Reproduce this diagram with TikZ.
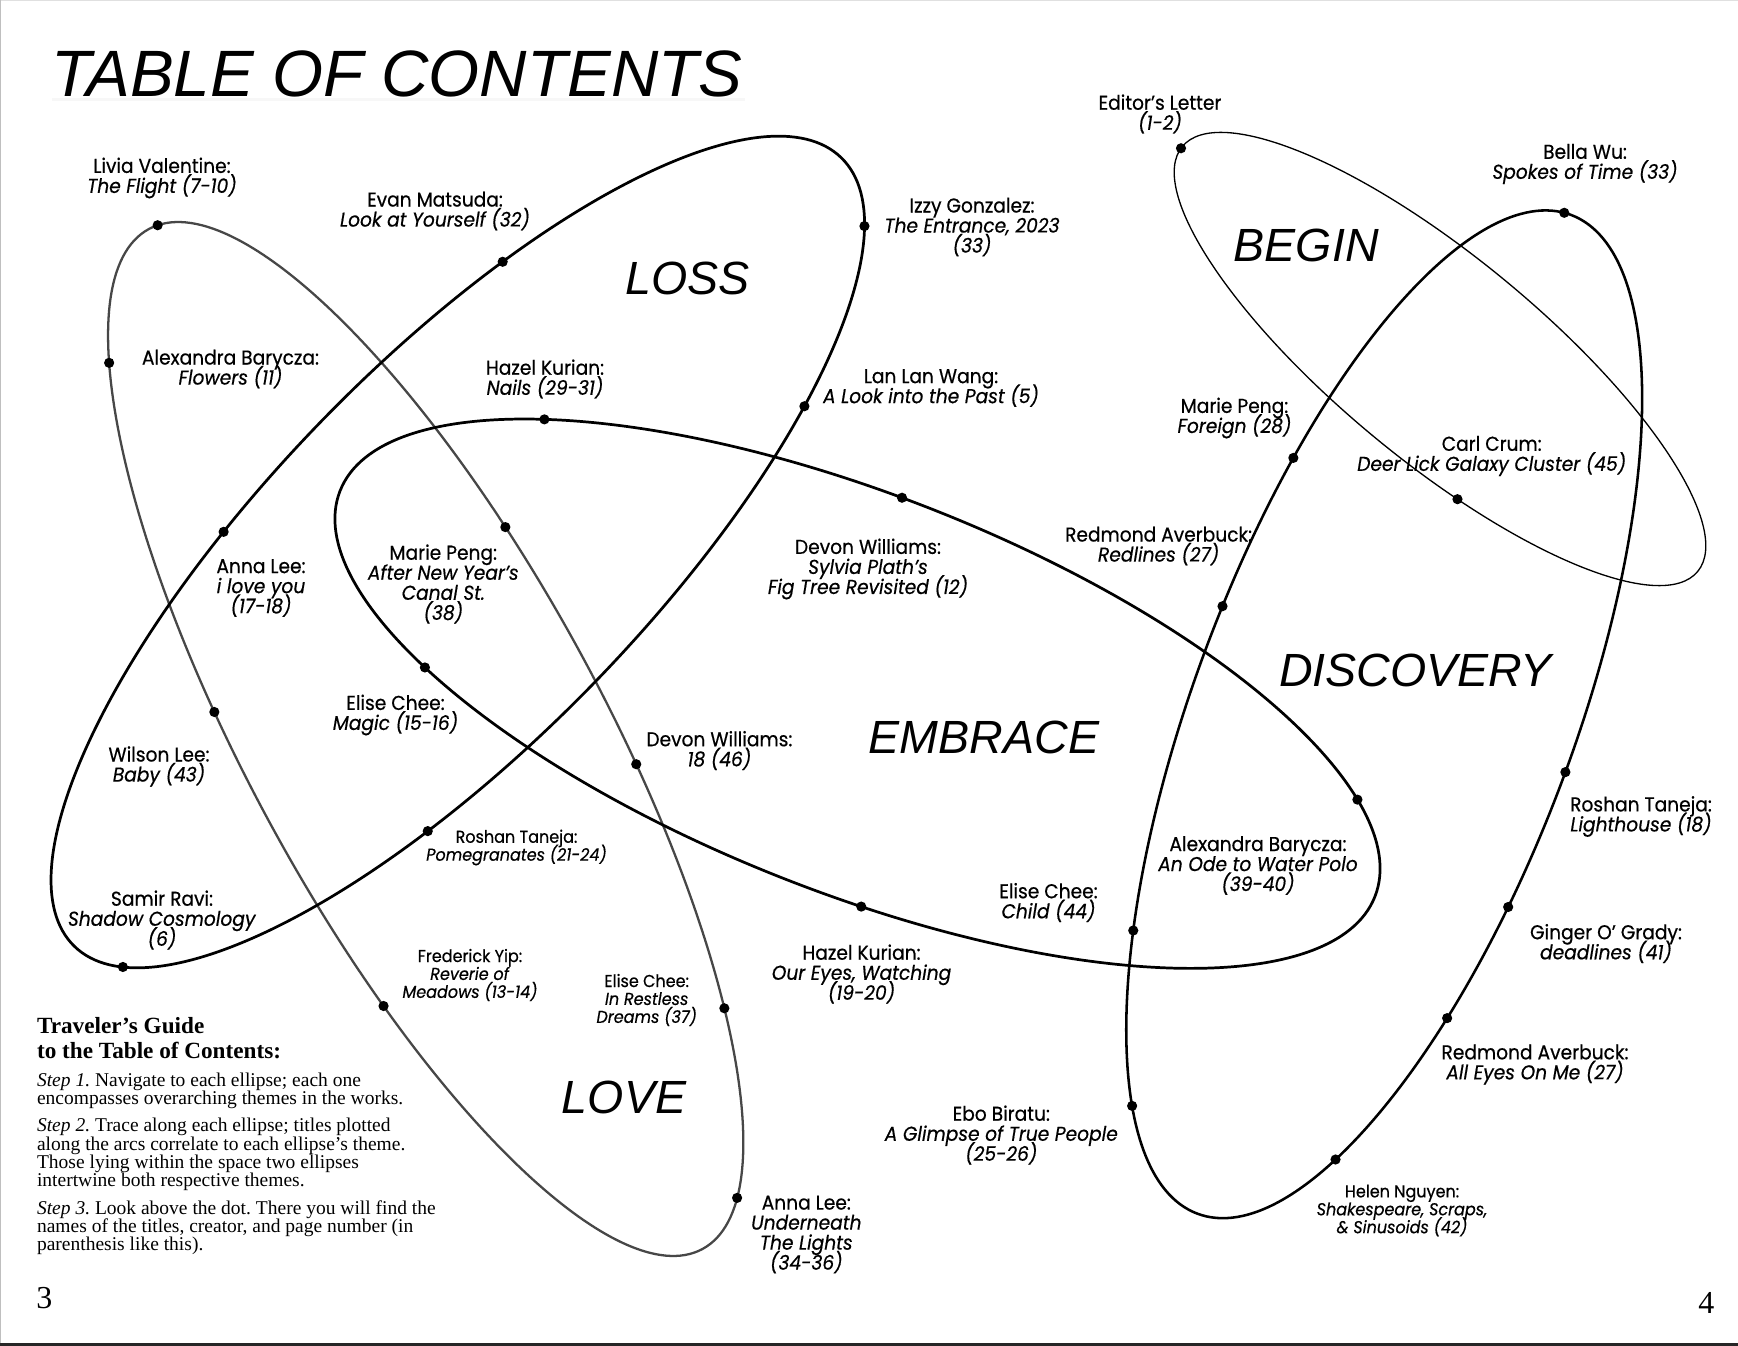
\documentclass[tikz,border=0pt]{standalone}
\usepackage{fontspec}
\setmainfont{Liberation Serif}
\newfontfamily\entryfont{Poppins}[FakeStretch=0.93, FakeBold=0.5]
\newfontfamily\themefont{Liberation Sans}

\tikzset{
  orbit/.style={line width=1.55pt},
  dot/.style={circle, fill=black, inner sep=0pt, minimum size=5.8pt},
  entry/.style={align=center, inner sep=0pt, font={\entryfont\fontsize{11.4}{11.4}\selectfont\lineskiplimit=-100pt}},
  smallentry/.style={entry, font={\entryfont\fontsize{9.8}{10.2}\selectfont\lineskiplimit=-100pt}},
  theme/.style={inner sep=0pt, font=\themefont\itshape\fontsize{26.5}{26.5}\selectfont},
  guide/.style={align=left, inner sep=0pt, anchor=base west, font={\fontsize{11.1}{10.4}\selectfont\lineskiplimit=-100pt\frenchspacing}},
}

\begin{document}
\begin{tikzpicture}[x=0.2mm, y=-0.2mm]
\useasboundingbox (0,0) rectangle (1738,1346);
\fill[white] (0,0) rectangle (1738,1346);
\draw[black!12, line width=0.6pt] (0,0.5) -- (1738,0.5);
\draw[black!25, line width=0.6pt] (0.5,0) -- (0.5,1346);
\draw[black!85, line width=1.2pt] (0,1344.5) -- (1738,1344.5);

% title
\fill[black!3] (52,98) rectangle (745,101);
\node[anchor=base west, inner sep=0pt, font=\themefont\itshape\fontsize{37.3}{37.3}\selectfont] (title) at (51,96.5) {TABLE OF CONTENTS};

% LOVE
\begin{scope}[shift={(425.7,739)}, rotate=-61.5]
  \draw[orbit, black!72, line width=1.3pt] (0,0) ellipse (580.3 and 177);
  \node[dot] (dLivia) at (183.1:580.3 and 177) {};
  \node[dot] (dFlowers) at (146.1:580.3 and 177) {};
  \node[dot] (dWilson) at (102.4:580.3 and 177) {};
  \node[dot] (dFrederick) at (68.3:580.3 and 177) {};
  \node[dot] (dLights) at (-18:580.3 and 177) {};
  \node[dot] (dDreams) at (-49.2:580.3 and 177) {};
  \node[dot] (dDevonEighteen) at (-77.8:580.3 and 177) {};
  \node[dot] (dCanal) at (-104.8:580.3 and 177) {};
\end{scope}

% LOSS
\begin{scope}[shift={(457.8,552)}, rotate=45.8]
  \draw[orbit] (0,0) ellipse (550 and 189);
  \node[dot] (dEvan) at (-64.2:550 and 189) {};
  \node[dot] (dIzzy) at (19.9:550 and 189) {};
  \node[dot] (dLanLan) at (51:550 and 189) {};
  \node[dot] (dPomegranates) at (113.7:550 and 189) {};
  \node[dot] (dSamir) at (164.9:550 and 189) {};
  \node[dot] (dILoveYou) at (254.3:550 and 189) {};
\end{scope}

% EMBRACE
\begin{scope}[shift={(857.5,693.7)}, rotate=-21.4]
  \draw[orbit] (0,0) ellipse (555.8 and 199);
  \node[dot] (dNails) at (225.2:555.8 and 199) {};
  \node[dot] (dFigTree) at (-93.1:555.8 and 199) {};
  \node[dot] (dWaterPolo) at (-24.9:555.8 and 199) {};
  \node[dot] (dOurEyes) at (81.6:555.8 and 199) {};
  \node[dot] (dMagic) at (137.9:555.8 and 199) {};
\end{scope}

% BEGIN
\begin{scope}[shift={(1440,359)}, rotate=-39.5]
  \draw[line width=0.75pt] (0,0) ellipse (334 and 102);
  \node[dot] (dEditor) at (178.8:334 and 102) {};
  \node[dot] (dCarl) at (72.1:334 and 102) {};
\end{scope}

% DISCOVERY
\begin{scope}[shift={(1384.2,714.3)}, rotate=69.5]
  \draw[orbit, line width=1.45pt] (0,0) ellipse (533.2 and 190);
  \node[dot] (dBella) at (-2.1:533.2 and 190) {};
  \node[dot] (dForeign) at (-67:533.2 and 190) {};
  \node[dot] (dRedlines) at (-85.2:533.2 and 190) {};
  \node[dot] (dChild) at (-123:533.2 and 190) {};
  \node[dot] (dEbo) at (-148.6:533.2 and 190) {};
  \node[dot] (dHelen) at (144.5:533.2 and 190) {};
  \node[dot] (dAllEyes) at (119.5:533.2 and 190) {};
  \node[dot] (dGinger) at (104.9:533.2 and 190) {};
  \node[dot] (dLighthouse) at (89:533.2 and 190) {};
\end{scope}

% themes
\node[theme] (loss) at (687.5,278) {LOSS};
\node[theme] (begin) at (1306.3,245) {BEGIN};
\node[theme] (discovery) at (1415.5,670) {DISCOVERY};
\node[theme] (embrace) at (984,737) {EMBRACE};
\node[theme] (love) at (624,1097) {LOVE};

% entries
\node[entry] (livia) at (162,178) {Livia Valentine:\\ \textit{The Flight (7-10)}};
\node[entry] (evan) at (435,211) {Evan Matsuda:\\ \textit{Look at Yourself (32)}};
\node[entry] (izzy) at (972,227) {Izzy Gonzalez:\\ \textit{The Entrance, 2023}\\ \textit{(33)}};
\node[entry] (flowers) at (230.5,369) {Alexandra Barycza:\\ \textit{Flowers (11)}};
\node[entry] (nails) at (545,379) {Hazel Kurian:\\ \textit{Nails (29-31)}};
\node[entry] (lanlan) at (931,388) {Lan Lan Wang:\\ \textit{A Look into the Past (5)}};
\node[entry] (foreign) at (1234.5,418) {Marie Peng:\\ \textit{Foreign (28)}};
\node[entry] (carl) at (1491.7,456) {Carl Crum:\\ \textit{Deer Lick Galaxy Cluster (45)}};
\node[entry] (bella) at (1585,164) {Bella Wu:\\ \textit{Spokes of Time (33)}};
\node[entry] (editor) at (1160,114) {Editor’s Letter\\ \textit{(1-2)}};
\node[entry] (iloveyou) at (261,588) {Anna Lee:\\ \textit{i love you}\\ \textit{(17-18)}};
\node[entry] (canal) at (443.3,584) {Marie Peng:\\ \textit{After New Year’s}\\ \textit{Canal St.}\\ \textit{(38)}};
\node[entry] (figtree) at (868,569) {Devon Williams:\\ \textit{Sylvia Plath’s}\\ \textit{Fig Tree Revisited (12)}};
\node[entry] (redlines) at (1158.6,546) {Redmond Averbuck:\\ \textit{Redlines (27)}};
\node[entry] (magic) at (395.5,715) {Elise Chee:\\ \textit{Magic (15-16)}};
\node[entry] (wilson) at (159,766.5) {Wilson Lee:\\ \textit{Baby (43)}};
\node[entry] (devoneighteen) at (719.4,750.5) {Devon Williams:\\ \textit{18 (46)}};
\node[smallentry] (pomegranates) at (516.5,847.5) {Roshan Taneja:\\ \textit{Pomegranates (21-24)}};
\node[entry] (samir) at (162,920) {Samir Ravi:\\ \textit{Shadow Cosmology}\\ \textit{(6)}};
\node[smallentry] (frederick) at (470,975) {Frederick Yip:\\ \textit{Reverie of}\\ \textit{Meadows (13-14)}};
\node[smallentry] (dreams) at (646.7,1000) {Elise Chee:\\ \textit{In Restless}\\ \textit{Dreams (37)}};
\node[entry] (oureyes) at (861.5,974) {Hazel Kurian:\\ \textit{Our Eyes, Watching}\\ \textit{(19-20)}};
\node[entry] (child) at (1048.5,902.5) {Elise Chee:\\ \textit{Child (44)}};
\node[entry] (waterpolo) at (1258,865.5) {Alexandra Barycza:\\ \textit{An Ode to Water Polo}\\ \textit{(39-40)}};
\node[entry] (lighthouse) at (1641,816.5) {Roshan Taneja:\\ \textit{Lighthouse (18)}};
\node[entry] (ginger) at (1606,943.5) {Ginger O’ Grady:\\ \textit{deadlines (41)}};
\node[entry] (alleyes) at (1535,1064.5) {Redmond Averbuck:\\ \textit{All Eyes On Me (27)}};
\node[entry] (ebo) at (1001.3,1135) {Ebo Biratu:\\ \textit{A Glimpse of True People}\\ \textit{(25-26)}};
\node[smallentry] (helen) at (1402,1210.5) {Helen Nguyen:\\ \textit{Shakespeare, Scraps,}\\ \textit{\& Sinusoids (42)}};
\node[entry] (lights) at (806.3,1234.5) {Anna Lee:\\ \textit{Underneath}\\ \textit{The Lights}\\ \textit{(34-36)}};

% guide (base = last line)
\node[anchor=base west, align=left, inner sep=0pt, font=\bfseries\fontsize{13.2}{14.2}\selectfont] (guidetitle) at (36.7,1058.3) {Traveler’s Guide\\to the Table of Contents:};
\node[guide] (stepone) at (36.7,1104.3) {\textit{Step 1.} Navigate to each ellipse; each one\\encompasses overarching themes in the works.};
\node[guide] (steptwo) at (36.7,1186.7) {\textit{Step 2.} Trace along each ellipse; titles plotted\\along the arcs correlate to each ellipse’s theme.\\Those lying within the space two ellipses\\intertwine both respective themes.};
\node[guide] (stepthree) at (36.7,1250.7) {\textit{Step 3.} Look above the dot. There you will find the\\names of the titles, creator, and page number (in\\parenthesis like this).};

% page numbers
\node[anchor=base west, inner sep=0pt, font=\fontsize{18.2}{18.2}\selectfont] (pageleft) at (36,1308) {3};
\node[anchor=base west, inner sep=0pt, font=\fontsize{18.2}{18.2}\selectfont] (pageright) at (1698,1313) {4};
\end{tikzpicture}
\end{document}
